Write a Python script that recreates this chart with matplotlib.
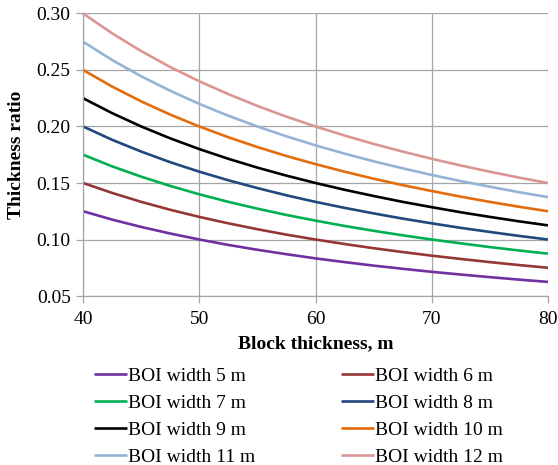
import numpy as np
import matplotlib.pyplot as plt
from matplotlib.ticker import FormatStrFormatter

plt.rcParams['font.family'] = ['Liberation Serif', 'DejaVu Serif']

# Block thickness, m
thickness = [40, 42.5, 45, 47.5, 50, 52.5, 55, 57.5, 60,
             62.5, 65, 67.5, 70, 72.5, 75, 77.5, 80]

# Thickness ratio for each BOI width
w5 = [0.1250, 0.1176, 0.1111, 0.1053, 0.1000, 0.0952, 0.0909, 0.0870, 0.0833,
      0.0800, 0.0769, 0.0741, 0.0714, 0.0690, 0.0667, 0.0645, 0.0625]
w6 = [0.1500, 0.1412, 0.1333, 0.1263, 0.1200, 0.1143, 0.1091, 0.1043, 0.1000,
      0.0960, 0.0923, 0.0889, 0.0857, 0.0828, 0.0800, 0.0774, 0.0750]
w7 = [0.1750, 0.1647, 0.1556, 0.1474, 0.1400, 0.1333, 0.1273, 0.1217, 0.1167,
      0.1120, 0.1077, 0.1037, 0.1000, 0.0966, 0.0933, 0.0903, 0.0875]
w8 = [0.2000, 0.1882, 0.1778, 0.1684, 0.1600, 0.1524, 0.1455, 0.1391, 0.1333,
      0.1280, 0.1231, 0.1185, 0.1143, 0.1103, 0.1067, 0.1032, 0.1000]
w9 = [0.2250, 0.2118, 0.2000, 0.1895, 0.1800, 0.1714, 0.1636, 0.1565, 0.1500,
      0.1440, 0.1385, 0.1333, 0.1286, 0.1241, 0.1200, 0.1161, 0.1125]
w10 = [0.2500, 0.2353, 0.2222, 0.2105, 0.2000, 0.1905, 0.1818, 0.1739, 0.1667,
       0.1600, 0.1538, 0.1481, 0.1429, 0.1379, 0.1333, 0.1290, 0.1250]
w11 = [0.2750, 0.2588, 0.2444, 0.2316, 0.2200, 0.2095, 0.2000, 0.1913, 0.1833,
       0.1760, 0.1692, 0.1630, 0.1571, 0.1517, 0.1467, 0.1419, 0.1375]
w12 = [0.3000, 0.2824, 0.2667, 0.2526, 0.2400, 0.2286, 0.2182, 0.2087, 0.2000,
       0.1920, 0.1846, 0.1778, 0.1714, 0.1655, 0.1600, 0.1548, 0.1500]

series = [w5, w6, w7, w8, w9, w10, w11, w12]
labels = ['BOI width %d m' % w for w in range(5, 13)]
colors = ['#7030A0', '#953735', '#00B050', '#1F497D',
          '#000000', '#E46C0A', '#95B3D7', '#D99694']

fig = plt.figure(figsize=(5.58, 4.65), dpi=100)
ax = fig.add_axes([0.149, 0.3634, 0.833, 0.6076])

lines = []
for y, lab, c in zip(series, labels, colors):
    ln, = ax.plot(thickness, y, color=c, lw=1.9, label=lab, clip_on=False,
                  solid_capstyle='butt')
    lines.append(ln)

ax.set_xlim(40, 80)
ax.set_ylim(0.05, 0.30)
ax.set_xticks([40, 50, 60, 70, 80])
ax.set_yticks([0.05, 0.10, 0.15, 0.20, 0.25, 0.30])
ax.yaxis.set_major_formatter(FormatStrFormatter('%.2f'))
ax.grid(True, color='#A6A6A6', lw=0.9)
ax.set_axisbelow(True)
for s in ['top', 'right']:
    ax.spines[s].set_visible(False)
for s in ['left', 'bottom']:
    ax.spines[s].set_color('#A6A6A6')
    ax.spines[s].set_linewidth(0.9)
ax.tick_params(axis='both', direction='out', length=5, width=0.9,
               color='#A6A6A6', labelsize=14, pad=4)
ax.tick_params(axis='x', pad=6)

ax.set_xlabel('Block thickness, m', fontsize=14, fontweight='bold', labelpad=5)
ax.set_ylabel('Thickness ratio', fontsize=14, fontweight='bold', labelpad=8)

# legend: two columns, left column 5,7,9,11 and right column 6,8,10,12
order = [0, 2, 4, 6, 1, 3, 5, 7]
fig.legend([lines[i] for i in order], [labels[i] for i in order],
           ncol=2, loc='upper left', bbox_to_anchor=(0.168, 0.21),
           frameon=False, fontsize=14, handlelength=1.7, handletextpad=0.05,
           columnspacing=4.4, labelspacing=0.48, borderaxespad=0,
           borderpad=0)

fig.savefig('out.png', dpi=100)
